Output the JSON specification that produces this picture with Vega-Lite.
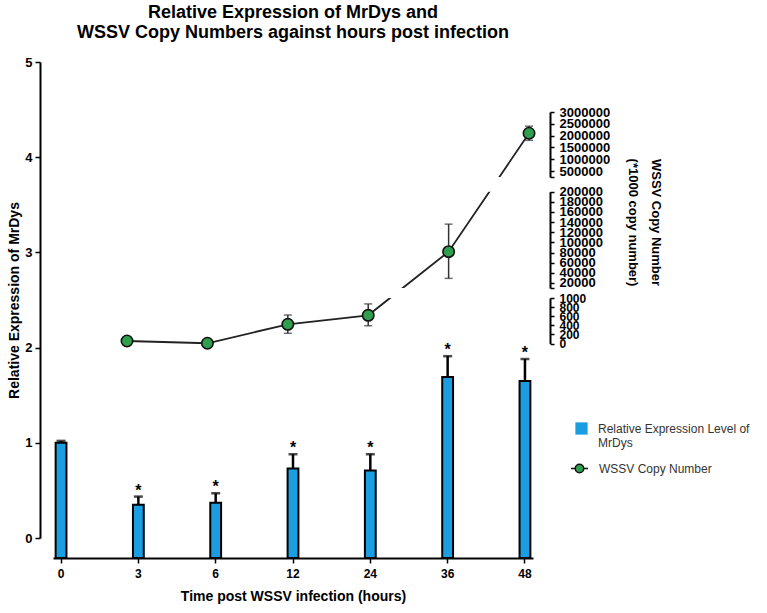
{
  "$schema": "https://vega.github.io/schema/vega-lite/v6.json",
  "width": 480,
  "height": 496,
  "autosize": {"type": "none"},
  "padding": {"left": 53, "top": 62, "right": 234, "bottom": 55},
  "title": {
    "text": ["Relative Expression of MrDys and", "WSSV Copy Numbers against hours post infection"],
    "anchor": "middle",
    "fontSize": 18,
    "fontWeight": "bold",
    "lineHeight": 20,
    "offset": 14,
    "color": "#000000",
    "font": "Liberation Sans"
  },
  "datasets": {
    "bars": [
      {"time": 0, "expr": 1.0, "upper": 1.02, "sig": ""},
      {"time": 3, "expr": 0.35, "upper": 0.435, "sig": "*"},
      {"time": 6, "expr": 0.37, "upper": 0.47, "sig": "*"},
      {"time": 12, "expr": 0.73, "upper": 0.88, "sig": "*"},
      {"time": 24, "expr": 0.71, "upper": 0.88, "sig": "*"},
      {"time": 36, "expr": 1.69, "upper": 1.91, "sig": "*"},
      {"time": 48, "expr": 1.65, "upper": 1.88, "sig": "*"}
    ],
    "wssv": [
      {"time": 3, "copies": 55, "lo": 30, "hi": 80},
      {"time": 6, "copies": 5, "lo": 0, "hi": 20},
      {"time": 12, "copies": 422, "lo": 224, "hi": 626},
      {"time": 24, "copies": 620, "lo": 390, "hi": 870},
      {"time": 36, "copies": 81700, "lo": 29000, "hi": 136000},
      {"time": 48, "copies": 2100000, "lo": 1800000, "hi": 2400000}
    ],
    "breaks": [
      {"from": 24, "to": 36, "lo": 1000, "hi": 10000},
      {"from": 36, "to": 48, "lo": 200000, "hi": 250000}
    ]
  },
  "layer": [
    {
      "data": {"name": "bars"},
      "encoding": {
        "x": {
          "field": "time",
          "type": "ordinal",
          "scale": {"type": "band", "domain": [0, 3, 6, 12, 24, 36, 48], "paddingInner": 0.86, "paddingOuter": 0.034},
          "axis": {
            "orient": "bottom",
            "title": "Time post WSSV infection (hours)",
            "labelAngle": 0,
            "labelFontSize": 12,
            "labelPadding": 5,
            "tickSize": 5,
            "titleFontSize": 14,
            "titlePadding": 10
          }
        }
      },
      "layer": [
        {
          "mark": {"type": "bar", "stroke": "#000000", "strokeWidth": 2},
          "encoding": {
            "y": {
              "field": "expr",
              "type": "quantitative",
              "scale": {"domain": [0, 5], "range": [476, 0]},
              "axis": {
                "orient": "left",
                "offset": 13,
                "values": [0, 1, 2, 3, 4, 5],
                "format": "d",
                "title": "Relative Expression of MrDys",
                "labelFontSize": 13,
                "labelPadding": 3,
                "tickSize": 5,
                "titleFontSize": 14,
                "titlePadding": 3
              }
            },
            "y2": {"datum": -0.21},
            "fill": {
              "datum": "Relative Expression Level of MrDys",
              "type": "nominal",
              "scale": {"domain": ["Relative Expression Level of MrDys"], "range": ["#1b9de2"]},
              "legend": {
                "orient": "none",
                "legendX": 522,
                "legendY": 360,
                "title": null,
                "labelFont": "Liberation Sans",
                "labelFontSize": 12,
                "labelColor": "#333333",
                "labelOffset": 10,
                "labelLimit": 300,
                "symbolType": "square",
                "symbolSize": 150,
                "symbolStrokeWidth": 0,
                "symbolStrokeColor": "transparent",
                "labelExpr": "['Relative Expression Level of', 'MrDys']",
                "encode": {"labels": {"lineHeight": {"value": 15}}}
              }
            }
          }
        },
        {
          "mark": {"type": "rule", "color": "#000000", "strokeWidth": 2.5},
          "encoding": {
            "y": {"field": "expr", "type": "quantitative"},
            "y2": {"field": "upper"}
          }
        },
        {
          "mark": {"type": "tick", "color": "#000000", "size": 9, "thickness": 2.5},
          "encoding": {
            "y": {"field": "upper", "type": "quantitative"}
          }
        },
        {
          "mark": {"type": "text", "fontSize": 16, "fontWeight": "bold", "color": "#000000", "baseline": "middle", "dy": -6},
          "encoding": {
            "y": {"field": "upper", "type": "quantitative"},
            "text": {"field": "sig"}
          }
        }
      ]
    },
    {
      "encoding": {
        "x": {
          "field": "time",
          "type": "ordinal",
          "scale": {"type": "point", "domain": [3, 6, 12, 24, 36, 48], "padding": 0.485, "align": 0.949},
          "axis": null
        },
        "y": {
          "field": "copies",
          "type": "quantitative",
          "scale": {"domain": [0, 1000, 10000, 200000, 250000, 3000000], "range": [281.5, 236, 226, 129.7, 115, 50]},
          "axis": null
        }
      },
      "layer": [
        {
          "data": {"name": "wssv"},
          "mark": {"type": "rule", "color": "#333333", "strokeWidth": 1.5},
          "encoding": {"y": {"field": "lo", "type": "quantitative"}, "y2": {"field": "hi"}}
        },
        {
          "data": {"name": "wssv"},
          "mark": {"type": "tick", "color": "#333333", "size": 8, "thickness": 1.5},
          "encoding": {"y": {"field": "lo", "type": "quantitative"}}
        },
        {
          "data": {"name": "wssv"},
          "mark": {"type": "tick", "color": "#333333", "size": 8, "thickness": 1.5},
          "encoding": {"y": {"field": "hi", "type": "quantitative"}}
        },
        {
          "data": {"name": "wssv"},
          "mark": {"type": "line", "color": "#222222", "strokeWidth": 1.8},
          "encoding": {}
        },
        {
          "data": {"name": "breaks"},
          "mark": {"type": "rect", "fill": "#ffffff", "stroke": null},
          "encoding": {
            "x": {"field": "from", "type": "ordinal"},
            "x2": {"field": "to"},
            "y": {"field": "lo", "type": "quantitative"},
            "y2": {"field": "hi"}
          }
        },
        {
          "data": {"name": "wssv"},
          "mark": {"type": "point", "filled": true, "fill": "#2f9e4f", "size": 130, "strokeWidth": 1.6, "opacity": 1},
          "encoding": {
            "stroke": {
              "datum": "WSSV Copy Number",
              "type": "nominal",
              "scale": {"domain": ["WSSV Copy Number"], "range": ["#111111"]},
              "legend": {
                "orient": "none",
                "legendX": 517,
                "legendY": 397,
                "title": null,
                "labelFont": "Liberation Sans",
                "labelFontSize": 12,
                "labelColor": "#333333",
                "labelOffset": 10,
                "symbolType": "M-1,0H-0.5M0.5,0H1M-0.5,0A0.5,0.5,0,1,1,0.5,0A0.5,0.5,0,1,1,-0.5,0Z",
                "symbolSize": 289,
                "symbolFillColor": "#2f9e4f",
                "symbolStrokeWidth": 1.5
              }
            }
          }
        }
      ]
    },
    {
      "data": {"name": "wssv"},
      "mark": {"type": "point", "opacity": 0, "clip": true},
      "encoding": {
        "y": {
          "field": "copies",
          "type": "quantitative",
          "scale": {"domain": [250000, 3000000], "range": [115, 50]},
          "axis": {
            "orient": "right",
            "offset": 17,
            "values": [250000, 500000, 1000000, 1500000, 2000000, 2500000, 3000000],
            "format": "d",
            "labelExpr": "datum.value == 250000 ? '' : datum.label",
            "labelFontSize": 13,
            "labelOverlap": false,
            "labelPadding": 5,
            "tickSize": 4,
            "title": null
          }
        }
      }
    },
    {
      "data": {"name": "wssv"},
      "mark": {"type": "point", "opacity": 0, "clip": true},
      "encoding": {
        "y": {
          "field": "copies",
          "type": "quantitative",
          "scale": {"domain": [10000, 200000], "range": [226, 129.7]},
          "axis": {
            "orient": "right",
            "offset": 17,
            "values": [10000, 20000, 40000, 60000, 80000, 100000, 120000, 140000, 160000, 180000, 200000],
            "format": "d",
            "labelExpr": "datum.value == 10000 ? '' : datum.label",
            "labelFontSize": 13,
            "labelOverlap": false,
            "labelPadding": 5,
            "tickSize": 4,
            "title": ["WSSV Copy Number", "(*1000 copy number)"],
            "titleFontSize": 13,
            "titleLineHeight": 23,
            "titleY": 160,
            "titlePadding": 23
          }
        }
      }
    },
    {
      "data": {"name": "wssv"},
      "mark": {"type": "point", "opacity": 0, "clip": true},
      "encoding": {
        "y": {
          "field": "copies",
          "type": "quantitative",
          "scale": {"domain": [0, 1000], "range": [281.5, 236]},
          "axis": {
            "orient": "right",
            "offset": 17,
            "values": [0, 200, 400, 600, 800, 1000],
            "format": "d",
            "labelFontSize": 12,
            "labelOverlap": false,
            "labelPadding": 5,
            "tickSize": 4,
            "title": null
          }
        }
      }
    }
  ],
  "resolve": {"scale": {"x": "independent", "y": "independent"}},
  "config": {
    "view": {"stroke": null},
    "font": "Liberation Sans",
    "axis": {
      "grid": false,
      "domainColor": "#000000",
      "domainWidth": 2,
      "tickColor": "#000000",
      "tickWidth": 1.5,
      "labelColor": "#000000",
      "labelFontWeight": "bold",
      "titleColor": "#000000",
      "titleFontWeight": "bold",
      "labelFont": "Liberation Sans",
      "titleFont": "Liberation Sans"
    }
  }
}
